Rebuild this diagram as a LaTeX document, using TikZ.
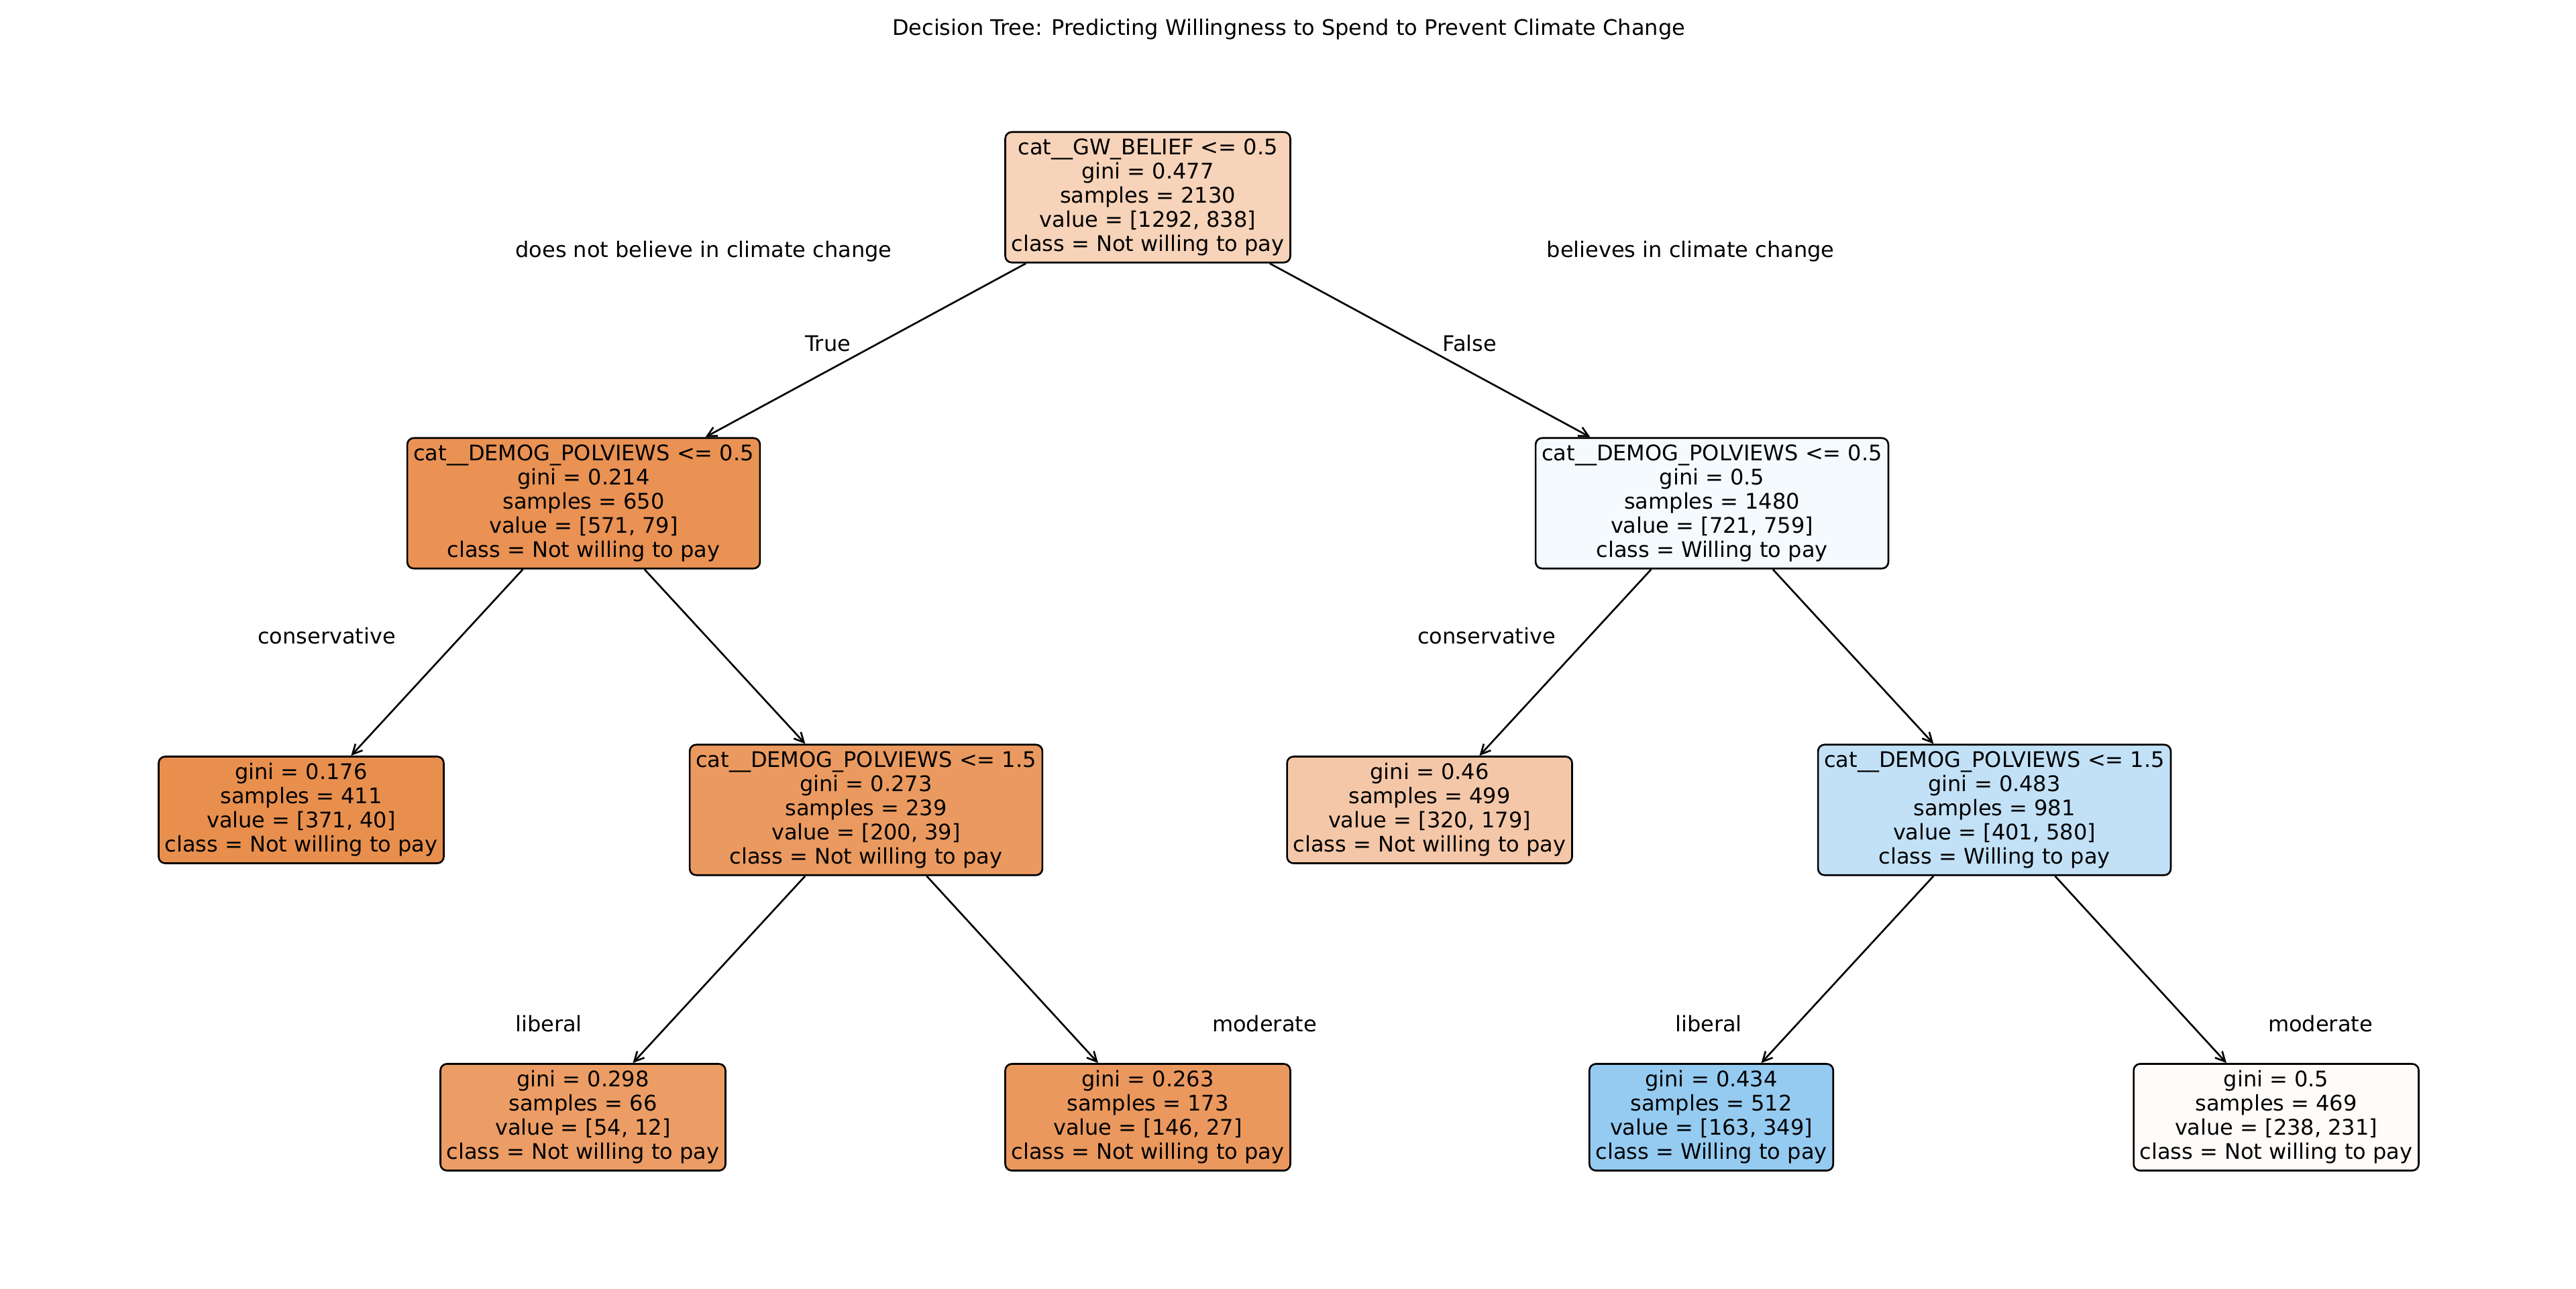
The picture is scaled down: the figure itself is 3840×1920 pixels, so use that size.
\documentclass[tikz,border=0pt]{standalone}
\usepackage{fontspec}
\setmainfont{DejaVu Sans}
\usetikzlibrary{arrows.meta}
\definecolor{cRoot}{RGB}{246,211,185}
\definecolor{cLa}{RGB}{233,146,84}
\definecolor{cLb}{RGB}{245,250,254}
\definecolor{cLeafA}{RGB}{232,143,78}
\definecolor{cNa}{RGB}{234,154,96}
\definecolor{cLeafB}{RGB}{244,199,168}
\definecolor{cNb}{RGB}{194,225,247}
\definecolor{cLeafC}{RGB}{235,157,101}
\definecolor{cLeafD}{RGB}{234,152,94}
\definecolor{cLeafE}{RGB}{149,203,241}
\definecolor{cLeafF}{RGB}{254,251,249}
\begin{document}
\begin{tikzpicture}[x=0.25pt,y=-0.25pt,
  tnode/.style={draw=black, line width=0.667pt, rounded corners=2.4pt, align=center,
    inner xsep=2.3pt, inner ysep=2.5pt, font=\fontsize{8pt}{9pt}\selectfont},
  elabel/.style={anchor=base, inner sep=0pt, font=\fontsize{8pt}{9pt}\selectfont},
  edge/.style={line width=0.667pt, -{Straight Barb[length=3.6pt,width=3.6pt]}}]
\useasboundingbox (0,0) rectangle (3840,1920);
\fill[white] (0,0) rectangle (3840,1920);

\node[elabel] (title) at (1921,52) {Decision Tree: Predicting Willingness to Spend to Prevent Climate Change};

\node[tnode, fill=cRoot] (root) at (1711,294) {cat\_\_GW\_BELIEF <= 0.5\\gini = 0.477\\samples = 2130\\value = [1292, 838]\\class = Not willing to pay};
\node[tnode, fill=cLa] (la) at (870,750) {cat\_\_DEMOG\_POLVIEWS <= 0.5\\gini = 0.214\\samples = 650\\value = [571, 79]\\class = Not willing to pay};
\node[tnode, fill=cLb] (lb) at (2552,750) {cat\_\_DEMOG\_POLVIEWS <= 0.5\\gini = 0.5\\samples = 1480\\value = [721, 759]\\class = Willing to pay};
\node[tnode, fill=cLeafA] (leafa) at (449,1207) {gini = 0.176\\samples = 411\\value = [371, 40]\\class = Not willing to pay};
\node[tnode, fill=cNa] (na) at (1291,1207) {cat\_\_DEMOG\_POLVIEWS <= 1.5\\gini = 0.273\\samples = 239\\value = [200, 39]\\class = Not willing to pay};
\node[tnode, fill=cLeafB] (leafb) at (2131,1207) {gini = 0.46\\samples = 499\\value = [320, 179]\\class = Not willing to pay};
\node[tnode, fill=cNb] (nb) at (2973,1207) {cat\_\_DEMOG\_POLVIEWS <= 1.5\\gini = 0.483\\samples = 981\\value = [401, 580]\\class = Willing to pay};
\node[tnode, fill=cLeafC] (leafc) at (869,1665) {gini = 0.298\\samples = 66\\value = [54, 12]\\class = Not willing to pay};
\node[tnode, fill=cLeafD] (leafd) at (1711,1665) {gini = 0.263\\samples = 173\\value = [146, 27]\\class = Not willing to pay};
\node[tnode, fill=cLeafE] (leafe) at (2551,1665) {gini = 0.434\\samples = 512\\value = [163, 349]\\class = Willing to pay};
\node[tnode, fill=cLeafF] (leaff) at (3393,1665) {gini = 0.5\\samples = 469\\value = [238, 231]\\class = Not willing to pay};

\draw[edge] (root) -- (la);
\draw[edge] (root) -- (lb);
\draw[edge] (la) -- (leafa);
\draw[edge] (la) -- (na);
\draw[edge] (lb) -- (leafb);
\draw[edge] (lb) -- (nb);
\draw[edge] (na) -- (leafc);
\draw[edge] (na) -- (leafd);
\draw[edge] (nb) -- (leafe);
\draw[edge] (nb) -- (leaff);

\node[elabel] (t1) at (1049,383) {does not believe in climate change};
\node[elabel] (t2) at (2520,383) {believes in climate change};
\node[elabel] (t3) at (1234,523) {True};
\node[elabel] (t4) at (2191,523) {False};
\node[elabel] (t5) at (487,959) {conservative};
\node[elabel] (t6) at (2216,959) {conservative};
\node[elabel] (t7) at (818,1537) {liberal};
\node[elabel] (t8) at (1885,1537) {moderate};
\node[elabel] (t9) at (2547,1537) {liberal};
\node[elabel] (t10) at (3459,1537) {moderate};
\end{tikzpicture}
\end{document}
